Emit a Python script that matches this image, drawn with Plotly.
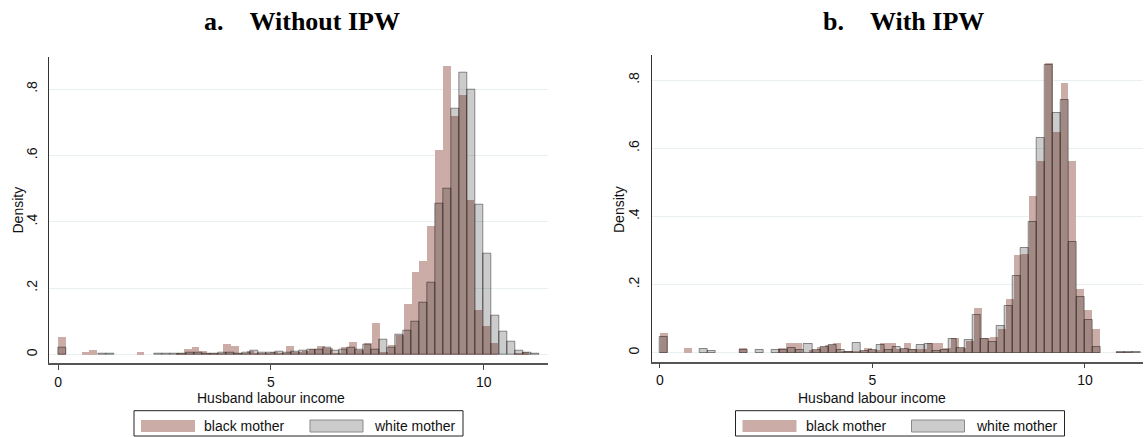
import plotly.graph_objects as go

W, H = 1145, 437

# ---------------- data ----------------
bin_start = 0.0
black_bin_width = 0.1847
white_bin_width = 0.1885

panel_titles = ["a.\u00a0\u00a0\u00a0\u00a0Without IPW", "b.\u00a0\u00a0\u00a0\u00a0With IPW"]
series_names = ["black mother", "white mother"]
x_tick_vals = [0, 5, 10]
x_tick_text = ["0", "5", "10"]
y_tick_vals = [0, 0.2, 0.4, 0.6, 0.8]
y_tick_text = ["0", ".2", ".4", ".6", ".8"]
x_title = "Husband labour income"
y_title = "Density"

a_black = [0.052, 0, 0, 0.007, 0.013, 0, 0, 0, 0, 0,
           0.007, 0, 0, 0, 0, 0.004, 0.016, 0.022, 0.010, 0.006,
           0.002, 0.031, 0.025, 0.004, 0.010, 0.006, 0.004, 0.007, 0.006, 0.025,
           0.008, 0.012, 0.016, 0.025, 0.020, 0.006, 0.024, 0.037, 0.015, 0.036,
           0.095, 0.008, 0.030, 0.060, 0.154, 0.249, 0.281, 0.387, 0.616, 0.870,
           0.719, 0.782, 0.465, 0.134, 0.086, 0.035, 0, 0, 0.003, 0.007]
a_white = [0.021, 0, 0, 0, 0, 0.001, 0.001, 0, 0, 0,
           0, 0, 0.001, 0.001, 0.001, 0.001, 0.004, 0.004, 0.002, 0.002,
           0.004, 0.004, 0.003, 0.004, 0.010, 0.006, 0.004, 0.007, 0.005, 0.007,
           0.010, 0.013, 0.014, 0.020, 0.010, 0.013, 0.021, 0.013, 0.028, 0.013,
           0.045, 0.021, 0.060, 0.072, 0.097, 0.157, 0.217, 0.453, 0.501, 0.742,
           0.848, 0.799, 0.450, 0.302, 0.116, 0.068, 0.038, 0.010, 0.006, 0.003]
b_black = [0.057, 0, 0, 0.013, 0, 0, 0, 0, 0, 0,
           0.013, 0, 0, 0, 0, 0.013, 0.028, 0.028, 0, 0.008,
           0.018, 0.022, 0.028, 0.005, 0.006, 0.005, 0.013, 0.008, 0.028, 0.028,
           0.010, 0.028, 0.010, 0.010, 0.028, 0.028, 0.013, 0.042, 0.015, 0.035,
           0.132, 0.042, 0.045, 0.071, 0.158, 0.287, 0.290, 0.461, 0.562, 0.851,
           0.649, 0.790, 0.562, 0.187, 0.126, 0.071, 0, 0, 0.002, 0.002]
b_white = [0.045, 0, 0, 0, 0, 0.010, 0.006, 0, 0, 0,
           0.008, 0, 0.007, 0, 0.007, 0.008, 0.013, 0.008, 0.026, 0.008,
           0.018, 0.022, 0.008, 0.003, 0.028, 0.006, 0.008, 0.024, 0.008, 0.016,
           0.010, 0.008, 0.024, 0.026, 0.004, 0.008, 0.040, 0.015, 0.036, 0.111,
           0.039, 0.030, 0.079, 0.137, 0.225, 0.306, 0.383, 0.629, 0.844, 0.702,
           0.742, 0.324, 0.162, 0.096, 0.016, 0, 0, 0.002, 0.003, 0.002]

# ---------------- styling ----------------
BLACK_FILL = "#CBACA6"
WHITE_FILL = "rgba(0,0,0,0.2)"
WHITE_LINE = "rgba(0,0,0,0.42)"
GRID = "#E8F0F1"
SANS = "Liberation Sans, Arial, sans-serif"
SERIF = "Liberation Serif, Times New Roman, serif"


def centers(n, w):
    return [bin_start + (i + 0.5) * w for i in range(n)]


def clean(vals):
    return [v if v > 0 else None for v in vals]


def px_x(x):
    return x / W


def px_y(y):
    return 1 - y / H


fig = go.Figure()

panels = [
    dict(black=a_black, white=a_white, xa="x", ya="y",
         dom_x=(49.3, 548.0), dom_y=(56.7, 363.3), xr=(-0.21, 11.51), yr=(-0.0271, 0.8977), dx=0.0),
    dict(black=b_black, white=b_white, xa="x2", ya="y2",
         dom_x=(651.7, 1143.0), dom_y=(55.0, 361.7), xr=(-0.195, 11.365), yr=(-0.0264, 0.8735), dx=601.5),
]

annotations = []
shapes = []
layout_axes = {}

for idx, p in enumerate(panels):
    fig.add_trace(go.Bar(
        x=centers(len(p["black"]), black_bin_width), y=clean(p["black"]),
        width=black_bin_width, xaxis=p["xa"], yaxis=p["ya"],
        marker=dict(color=BLACK_FILL, line=dict(width=0)),
        name=series_names[0], showlegend=False))
    fig.add_trace(go.Bar(
        x=centers(len(p["white"]), white_bin_width), y=clean(p["white"]),
        width=white_bin_width, xaxis=p["xa"], yaxis=p["ya"],
        marker=dict(color=WHITE_FILL, line=dict(width=1, color=WHITE_LINE)),
        name=series_names[1], showlegend=False))

    suffix = "" if idx == 0 else "2"
    layout_axes["xaxis" + suffix] = dict(
        domain=[px_x(p["dom_x"][0]), px_x(p["dom_x"][1])],
        range=list(p["xr"]), anchor="y" + suffix,
        tickvals=x_tick_vals, ticktext=x_tick_text,
        ticks="outside", ticklen=5, tickwidth=1, tickcolor="#444",
        showline=True, linecolor="#555", linewidth=1.5,
        showgrid=False, zeroline=False,
        tickfont=dict(family=SANS, size=14, color="#111"),
        ticklabelstandoff=0,
    )
    layout_axes["yaxis" + suffix] = dict(
        domain=[px_y(p["dom_y"][1]), px_y(p["dom_y"][0])],
        range=list(p["yr"]), anchor="x" + suffix,
        tickvals=y_tick_vals, ticktext=y_tick_text, tickangle=-90,
        ticks="", showline=True, linecolor="#333", linewidth=1.2,
        showgrid=True, gridcolor=GRID, gridwidth=1, zeroline=False,
        tickfont=dict(family=SANS, size=14, color="#111"),
        ticklabelstandoff=6,
    )

    dx = p["dx"]
    # panel title
    annotations.append(dict(
        text="<b>" + panel_titles[idx] + "</b>", x=px_x(302 + dx), y=px_y(22),
        xref="paper", yref="paper", showarrow=False, xanchor="center", yanchor="middle",
        font=dict(family=SERIF, size=26, color="#000")))
    # y title
    annotations.append(dict(
        text=y_title, x=px_x(17.5 + dx), y=px_y(210), xref="paper", yref="paper",
        showarrow=False, textangle=-90, xanchor="center", yanchor="middle",
        font=dict(family=SANS, size=14, color="#111")))
    # x title
    annotations.append(dict(
        text=x_title, x=5, xref=p["xa"], y=px_y(398), yref="paper",
        showarrow=False, xanchor="center", yanchor="middle",
        font=dict(family=SANS, size=14, color="#111")))

    # legend box
    shapes.append(dict(type="rect", xref="paper", yref="paper",
                       x0=px_x(134 + dx), x1=px_x(463 + dx), y0=px_y(436), y1=px_y(410.7),
                       line=dict(color="#222", width=1), fillcolor="white"))
    shapes.append(dict(type="rect", xref="paper", yref="paper",
                       x0=px_x(141 + dx), x1=px_x(195 + dx), y0=px_y(432), y1=px_y(420),
                       line=dict(width=0), fillcolor=BLACK_FILL))
    shapes.append(dict(type="rect", xref="paper", yref="paper",
                       x0=px_x(310 + dx), x1=px_x(363 + dx), y0=px_y(432), y1=px_y(420),
                       line=dict(color="#8a8a8a", width=1), fillcolor="#CCCCCC"))
    annotations.append(dict(
        text=series_names[0], x=px_x(202 + dx), y=px_y(426), xref="paper", yref="paper",
        showarrow=False, xanchor="left", yanchor="middle",
        font=dict(family=SANS, size=14, color="#111")))
    annotations.append(dict(
        text=series_names[1], x=px_x(372 + dx), y=px_y(426), xref="paper", yref="paper",
        showarrow=False, xanchor="left", yanchor="middle",
        font=dict(family=SANS, size=14, color="#111")))

fig.update_layout(
    width=W, height=H, margin=dict(l=0, r=0, t=0, b=0),
    paper_bgcolor="white", plot_bgcolor="white",
    barmode="overlay", bargap=0, showlegend=False,
    annotations=annotations, shapes=shapes,
    **layout_axes,
)

fig.write_html("out.html")
